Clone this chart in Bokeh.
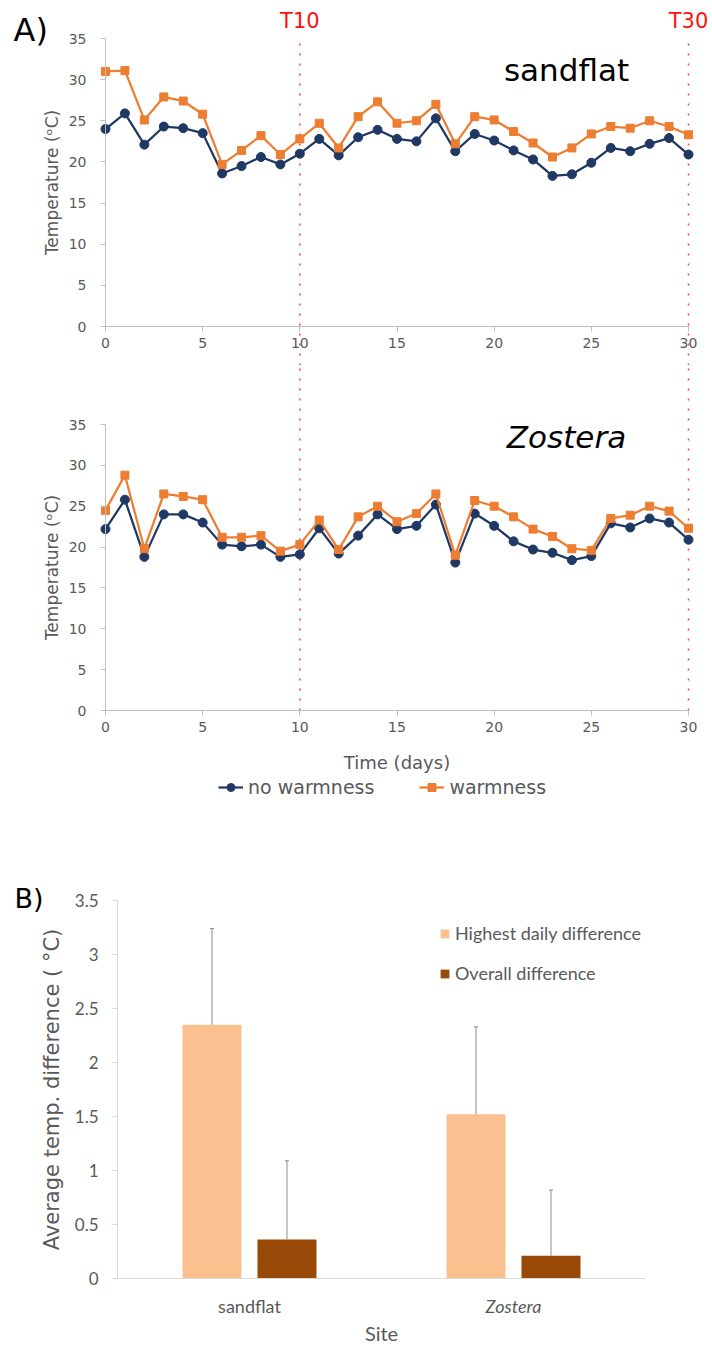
from bokeh.plotting import figure
from bokeh.models import (Range1d, FixedTicker, Label, Legend, LegendItem,
                          ColumnDataSource)
from bokeh.layouts import column
from bokeh.embed import file_html
from bokeh.resources import INLINE

# ---------------- data ----------------
days = list(range(31))

sand_nowarm = [24.0, 25.9, 22.1, 24.3, 24.1, 23.5, 18.6, 19.5, 20.6, 19.7, 21.0,
               22.8, 20.8, 23.0, 23.9, 22.8, 22.5, 25.3, 21.3, 23.4, 22.6,
               21.4, 20.3, 18.3, 18.5, 19.9, 21.7, 21.3, 22.2, 22.9, 20.9]
sand_warm = [31.0, 31.1, 25.1, 27.9, 27.4, 25.8, 19.7, 21.4, 23.2, 20.9, 22.8,
             24.7, 21.7, 25.5, 27.3, 24.7, 25.0, 27.0, 22.2, 25.5, 25.1,
             23.7, 22.3, 20.6, 21.7, 23.4, 24.3, 24.1, 25.0, 24.3, 23.3]
zost_nowarm = [22.2, 25.8, 18.8, 24.0, 24.0, 23.0, 20.3, 20.1, 20.3, 18.8, 19.1,
               22.3, 19.2, 21.4, 24.0, 22.2, 22.6, 25.2, 18.1, 24.1, 22.6,
               20.7, 19.7, 19.3, 18.4, 18.9, 22.9, 22.4, 23.5, 23.0, 20.9]
zost_warm = [24.5, 28.8, 19.8, 26.5, 26.2, 25.8, 21.2, 21.2, 21.4, 19.5, 20.3,
             23.3, 19.7, 23.7, 25.0, 23.1, 24.1, 26.5, 19.0, 25.7, 25.0,
             23.7, 22.2, 21.3, 19.8, 19.6, 23.5, 23.9, 25.0, 24.4, 22.3]

marker_days = [10, 30]
marker_names = ["T10", "T30"]

x_ticks = [0, 5, 10, 15, 20, 25, 30]
t_ticks = [0, 5, 10, 15, 20, 25, 30, 35]

sites = ["sandflat", "Zostera"]
highest = [2.35, 1.52]
highest_err = [0.89, 0.81]
overall = [0.36, 0.21]
overall_err = [0.73, 0.61]
b_ticks = [0, 0.5, 1, 1.5, 2, 2.5, 3, 3.5]

# ---------------- style ----------------
FONT = "DejaVu Sans"
NARROW = "Lato"
GREY = "#595959"
AXIS = "#BFBFBF"
BLUE = "#1F3864"
ORANGE = "#ED7D31"
RED = "#FF1010"
W = 712


def framed_figure(height, px_x, dx, px_y, dy):
    """Figure whose drawing area is the whole canvas; data (dx, dy) map to
    the given pixel positions (left->right, top->bottom)."""
    ppx = (px_x[1] - px_x[0]) / (dx[1] - dx[0])
    ppy = (px_y[0] - px_y[1]) / (dy[1] - dy[0])
    xr = Range1d(dx[0] - px_x[0] / ppx, dx[1] + (W - px_x[1]) / ppx)
    yr = Range1d(dy[0] - (height - px_y[0]) / ppy, dy[1] + px_y[1] / ppy)
    p = figure(width=W, height=height, x_range=xr, y_range=yr,
               min_border=0, output_backend="svg", toolbar_location=None,
               outline_line_color=None, background_fill_color="white",
               border_fill_color="white")
    p.grid.visible = False
    return p


def style_axes(p, font, size, axis_color):
    for ax in (p.xaxis, p.yaxis):
        ax.axis_line_color = axis_color
        ax.major_tick_line_color = axis_color
        ax.major_tick_out = 5
        ax.major_tick_in = 0
        ax.minor_tick_out = 0
        ax.minor_tick_in = 0
        ax.major_label_text_font = font
        ax.major_label_text_font_size = size
        ax.major_label_text_color = GREY
        ax.axis_label_text_color = GREY
        ax.axis_label_text_font_style = "normal"


def text_label(p, x, y, text, size, color="black", italic=False, align="left",
               font=FONT, x_units="screen"):
    # y is measured up from the bottom of the canvas, to the text's middle
    p.add_layout(Label(x=x, y=y, x_units=x_units, y_units="screen", text=text,
                       text_align=align, text_baseline="middle", text_font=font,
                       text_font_size=size, text_color=color,
                       text_font_style="italic" if italic else "normal"))


def temp_panel(height, y0_px, y35_px, nowarm, warm, top_panel, xlabel):
    p = framed_figure(height, (105, 688), (0, 30), (y0_px, y35_px), (0, 35))
    style_axes(p, FONT, "14px", AXIS)
    p.xaxis.fixed_location = 0
    p.yaxis.fixed_location = 0
    p.xaxis.bounds = (0, 30)
    p.yaxis.bounds = (0, 35)
    p.xaxis.ticker = FixedTicker(ticks=x_ticks)
    p.yaxis.ticker = FixedTicker(ticks=t_ticks)
    p.xaxis.major_label_standoff = 6
    p.yaxis.major_label_standoff = 14
    p.yaxis.axis_label = "Temperature (\u1d52C)"
    p.yaxis.axis_label_text_font = FONT
    p.yaxis.axis_label_text_font_size = "17px"
    p.yaxis.axis_label_standoff = 4
    if xlabel:
        p.xaxis.axis_label = xlabel
        p.xaxis.axis_label_text_font = FONT
        p.xaxis.axis_label_text_font_size = "18px"
        p.xaxis.axis_label_standoff = 17

    # red dotted day markers, continuous between the two panels
    if top_panel:
        y_hi, y_lo = 35, p.y_range.start
    else:
        y_hi, y_lo = p.y_range.end, 0
    p.segment(x0=marker_days, y0=[y_lo] * len(marker_days),
              x1=marker_days, y1=[y_hi] * len(marker_days),
              line_color=RED, line_width=1.5, line_dash="2 8", line_alpha=0.8)

    r1 = p.line(days, nowarm, line_color=BLUE, line_width=2.25)
    r2 = p.scatter(days, nowarm, marker="circle", size=9, fill_color=BLUE,
                   line_color=BLUE)
    r3 = p.line(days, warm, line_color=ORANGE, line_width=2.25)
    r4 = p.scatter(days, warm, marker="square", size=8, fill_color=ORANGE,
                   line_color=ORANGE)
    return p, (r1, r2, r3, r4)


H1, H2, H3 = 365, 445, 537

# ---------------- panel A: sandflat ----------------
p1, _ = temp_panel(H1, 326, 38, sand_nowarm, sand_warm, True, None)
for d, name in zip(marker_days, marker_names):
    text_label(p1, d, H1 - 20, name, "21px", color=RED, align="center",
               x_units="data")
text_label(p1, 566, H1 - 69, "sandflat", "31px", align="center")
text_label(p1, 13, H1 - 29, "A)", "32px")

# ---------------- panel A: Zostera ----------------
p2, rs = temp_panel(H2, 710 - H1, 424 - H1, zost_nowarm, zost_warm, False,
                    "Time (days)")
text_label(p2, 566, H2 - 71, "Zostera", "31px", italic=True, align="center")
legA = Legend(items=[LegendItem(label="no warmness", renderers=[rs[0], rs[1]]),
                     LegendItem(label="warmness", renderers=[rs[2], rs[3]])],
              orientation="horizontal", location=(218, 12),
              border_line_color=None, background_fill_alpha=0,
              padding=0, margin=0, spacing=45, glyph_width=25, glyph_height=20,
              label_height=20, label_standoff=5, label_text_font=FONT,
              label_text_font_size="19px", label_text_color=GREY)
p2.add_layout(legA)

# ---------------- panel B ----------------
site_pos = [i + 0.5 for i in range(len(sites))]
OFF = 0.142
BW = 0.2235
src = ColumnDataSource(dict(
    x_hi=[s - OFF for s in site_pos], x_ov=[s + OFF for s in site_pos],
    highest=highest, overall=overall,
    highest_up=[v + e for v, e in zip(highest, highest_err)],
    overall_up=[v + e for v, e in zip(overall, overall_err)],
))

p3 = framed_figure(H3, (117, 645), (0, len(sites)), (1278 - 810, 900 - 810),
                   (0, 3.5))
style_axes(p3, NARROW, "17px", "#D9D9D9")
p3.xaxis.fixed_location = 0
p3.yaxis.fixed_location = 0
p3.xaxis.bounds = (0, len(sites))
p3.yaxis.bounds = (0, 3.5)
p3.yaxis.ticker = FixedTicker(ticks=b_ticks)
p3.yaxis.major_label_overrides = {t: f"{t:g}" for t in b_ticks}
p3.yaxis.major_label_standoff = 14
p3.xaxis.ticker = FixedTicker(ticks=site_pos)
p3.xaxis.major_label_overrides = {site_pos[0]: sites[0], site_pos[1]: ""}
p3.xaxis.major_tick_out = 0
p3.xaxis.major_label_text_font_size = "18px"
p3.xaxis.major_label_standoff = 16
p3.xaxis.axis_label = "Site"
p3.xaxis.axis_label_text_font = NARROW
p3.xaxis.axis_label_text_font_size = "20px"
p3.xaxis.axis_label_standoff = 1
p3.yaxis.axis_label = "Average temp. difference ( \u00b0C)"
p3.yaxis.axis_label_text_font = FONT
p3.yaxis.axis_label_text_font_size = "21px"
p3.yaxis.axis_label_standoff = 8

rb1 = p3.vbar(x="x_hi", top="highest", width=BW, source=src,
              fill_color="#FAC090", line_color=None)
rb2 = p3.vbar(x="x_ov", top="overall", width=BW, source=src,
              fill_color="#984807", line_color=None)
for xx, lo, hi in (("x_hi", "highest", "highest_up"), ("x_ov", "overall", "overall_up")):
    p3.segment(x0=xx, y0=lo, x1=xx, y1=hi, source=src,
               line_color="#8C8C8C", line_width=1)
    p3.scatter(x=xx, y=hi, source=src, marker="dash", size=4,
               line_color="#8C8C8C", line_width=1)

p3.add_layout(Label(x=site_pos[1], y=H3 - (1278 - 810) - 16, y_units="screen",
                    text=sites[1], text_align="center", text_baseline="top",
                    text_font=NARROW, text_font_size="18px",
                    text_font_style="italic", text_color=GREY))

legB = Legend(items=[LegendItem(label="Highest daily difference", renderers=[rb1]),
                     LegendItem(label="Overall difference", renderers=[rb2])],
              location=(439, 363), border_line_color=None, background_fill_alpha=0,
              padding=0, margin=0, spacing=18, glyph_width=11, glyph_height=11,
              label_height=20, label_standoff=5, label_text_font=NARROW,
              label_text_font_size="18px", label_text_color=GREY)
p3.add_layout(legB)

text_label(p3, 14, H3 - 88, "B)", "27px")

layout = column(p1, p2, p3, spacing=0)
open("out.html", "w").write(file_html(layout, INLINE))
